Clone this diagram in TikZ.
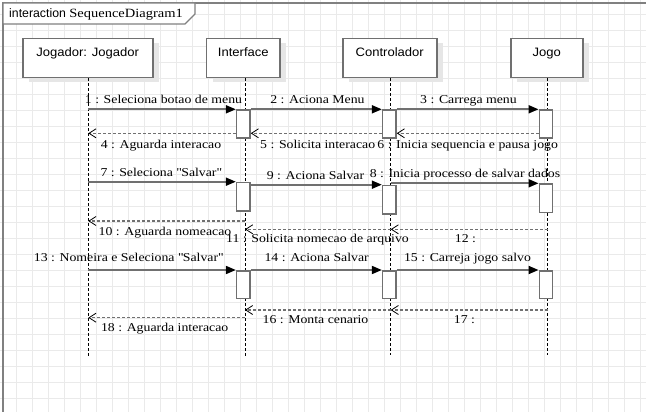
\documentclass[tikz,border=0pt]{standalone}
\usepackage{fontspec}
\setmainfont{Liberation Serif}
\setsansfont{Liberation Sans}
\newfontfamily\msgfont[FakeStretch=1.15]{Liberation Serif}
\newfontfamily\headfont[FakeStretch=1.07]{Liberation Sans}
\usetikzlibrary{arrows.meta}
\definecolor{gridc}{RGB}{234,234,234}
\definecolor{framec}{RGB}{128,128,128}
\definecolor{linec}{RGB}{112,112,112}
\definecolor{shadowc}{RGB}{230,230,230}
\tikzset{
  head/.style={draw=linec, line width=1.6pt, fill=white, inner xsep=0pt, inner ysep=0pt,
    minimum height=39pt, text height=18.3pt, text depth=20.7pt, font=\headfont\fontsize{12.2}{14}\selectfont},
  headshadow/.style={fill=shadowc, draw=none},
  lifeline/.style={draw=black, line width=0.8pt, dash pattern=on 3pt off 2pt},
  act/.style={draw=linec, line width=1.6pt, fill=white, minimum width=13.3pt, inner sep=0pt},
  call/.style={draw=linec, line width=1.8pt, -{Triangle[length=10pt,width=8pt,color=black]}},
  reply/.style={draw=linec, line width=1.3pt, dash pattern=on 3pt off 2pt, -{Straight Barb[length=7pt,width=9pt,line width=0.8pt,color=black]}},
  msg/.style={anchor=base, inner sep=0pt, font=\msgfont\fontsize{12}{14}\selectfont},
}
\begin{document}
\begin{tikzpicture}[x=1pt,y=-1pt]
\useasboundingbox (0,0) rectangle (646,412);
\fill[white] (0,0) rectangle (646,412);
% grid
\foreach \k in {1,...,40} \draw[gridc, line width=0.8pt] (16*\k,0) -- (16*\k,412);
\foreach \k in {1,...,25} \draw[gridc, line width=0.8pt] (0,16*\k-2) -- (646,16*\k-2);
% frame
\draw[framec, line width=1.8pt] (3,412) -- (3,3) -- (646,3);
\draw[framec, line width=1.2pt, fill=white] (3,3) -- (195,3) -- (195,14) -- (185,24) -- (3,24) -- cycle;
\node[anchor=base west, inner sep=0pt] (title) at (9,17.5)
  {\sffamily\fontsize{12.3}{14}\selectfont interaction \msgfont\fontsize{12.6}{14}\selectfont SequenceDiagram1};
% shadows
\fill[headshadow] (28.7,42.7) rectangle (158.7,81.7);
\fill[headshadow] (212.7,42.7) rectangle (286,81.7);
\fill[headshadow] (348.7,42.7) rectangle (442.7,81.7);
\fill[headshadow] (516.7,42.7) rectangle (588.7,81.7);
% heads
\node[head, minimum width=130pt, anchor=north] (jog) at (87.7,37.7) {Jogador: Jogador};
\node[head, minimum width=73.3pt, anchor=north] (int) at (243.3,37.7) {Interface};
\node[head, minimum width=94pt, anchor=north] (con) at (389.7,37.7) {Controlador};
\node[head, minimum width=72pt, anchor=north] (jgo) at (546.7,37.7) {Jogo};
% lifeline ends
\coordinate (jogE) at (88.3,357);
\coordinate (intE) at (245,357);
\coordinate (conE) at (390.7,355);
\coordinate (jgoE) at (547.7,355);
\draw[lifeline] (jog.south -| jogE) -- (jogE);
\draw[lifeline] (int.south -| intE) -- (intE);
\draw[lifeline] (con.south -| conE) -- (conE);
\draw[lifeline] (jgo.south -| jgoE) -- (jgoE);
% activation bars
\node[act, minimum height=28pt, anchor=north] (ia1) at (243.3,109.3) {};
\node[act, minimum height=28pt, anchor=north] (ca1) at (389.3,109.3) {};
\node[act, minimum height=28pt, anchor=north] (ga1) at (546,109.3) {};
\node[act, minimum height=28.3pt, anchor=north] (ia2) at (243.3,181.7) {};
\node[act, minimum height=28.6pt, anchor=north] (ca2) at (389.3,184.7) {};
\node[act, minimum height=28.4pt, anchor=north] (ga2) at (546,183.3) {};
\node[act, minimum height=27.7pt, anchor=north] (ia3) at (243.3,270) {};
\node[act, minimum height=27.7pt, anchor=north] (ca3) at (389.3,270) {};
\node[act, minimum height=27.7pt, anchor=north] (ga3) at (546,270) {};
% endpoints on lifelines
\coordinate (j1) at (88.3,109.3);
\coordinate (j4) at (88.3,133.3);
\coordinate (j7) at (88.3,181.7);
\coordinate (c8) at (390.7,183.3);
\coordinate (j10) at (88.3,221);
\coordinate (i10) at (245,221);
\coordinate (i11) at (245,229.3);
\coordinate (c11) at (390.7,229.3);
\coordinate (g12) at (547.7,229.3);
\coordinate (j13) at (88.3,270);
\coordinate (i16) at (245,310);
\coordinate (c16) at (390.7,310);
\coordinate (g17) at (547.7,310);
\coordinate (j18) at (88.3,317.7);
\coordinate (i18) at (245,317.7);
% row 1
\draw[call] (j1) -- (ia1.north west);
\draw[call] (ia1.north east) -- (ca1.north west);
\draw[call] (ca1.north east) -- (ga1.north west);
\draw[reply] (ia1.west |- j4) -- (j4);
\draw[reply] (ca1.west |- j4) -- (ia1.east |- j4);
\draw[reply] (ga1.west |- j4) -- (ca1.east |- j4);
\node[msg] (m1) at (163.5,103.3) {1 : Seleciona botao de menu};
\node[msg] (m2) at (317.5,103.3) {2 : Aciona Menu};
\node[msg] (m3) at (468.5,103.3) {3 : Carrega menu};
\node[msg] (m4) at (161,148.3) {4 : Aguarda interacao};
\node[msg] (m5) at (317.7,148.3) {5 : Solicita interacao};
\node[msg] (m6) at (467.7,148.3) {6 : Inicia sequencia e pausa jogo};
% row 2
\draw[call] (j7) -- (ia2.north west);
\draw[call] (ia2.east |- ca2.north) -- (ca2.north west);
\draw[call] (c8) -- (ga2.north west);
\draw[reply] (i10) -- (j10);
\draw[reply] (c11) -- (i11);
\draw[reply] (g12) -- (c11);
\node[msg] (m7) at (161,176) {7 : Seleciona \textquotedbl Salvar\textquotedbl};
\node[msg] (m9) at (315.5,179.3) {9 : Aciona Salvar};
\node[msg] (m8) at (465,177.3) {8 : Inicia processo de salvar dados};
\node[msg] (m10) at (165,235) {10 : Aguarda nomeacao};
\node[msg] (m11) at (317.5,242.7) {11 : Solicita nomecao de arquivo};
\node[msg] (m12) at (465.5,242.7) {12 :};
% row 3
\draw[call] (j13) -- (ia3.north west);
\draw[call] (ia3.north east) -- (ca3.north west);
\draw[call] (ca3.north east) -- (ga3.north west);
\draw[reply] (c16) -- (i16);
\draw[reply] (g17) -- (c16);
\draw[reply] (i18) -- (j18);
\node[msg] (m13) at (128.5,261.7) {13 : Nomeira e Seleciona \textquotedbl Salvar\textquotedbl};
\node[msg] (m14) at (316.7,261.7) {14 : Aciona Salvar};
\node[msg] (m15) at (467.5,261.7) {15 : Carreja jogo salvo};
\node[msg] (m16) at (315.5,323.3) {16 : Monta cenario};
\node[msg] (m17) at (464.5,323.3) {17 :};
\node[msg] (m18) at (164.7,331.7) {18 : Aguarda interacao};
\end{tikzpicture}
\end{document}
